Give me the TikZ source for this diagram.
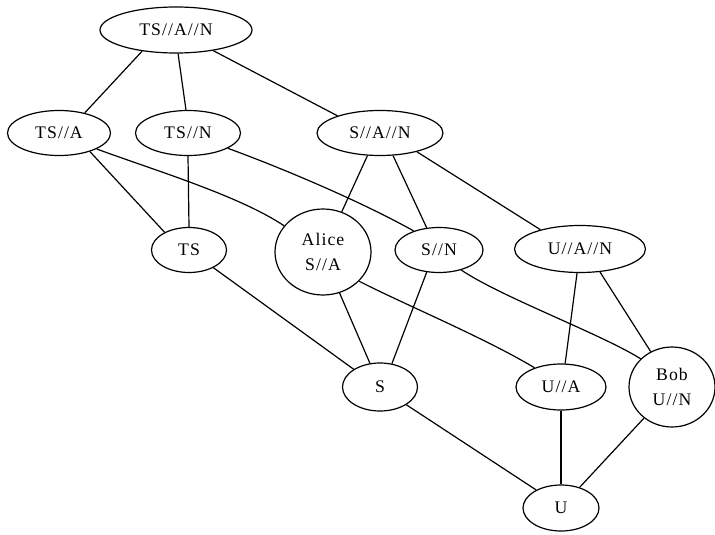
\documentclass[tikz,border=0pt]{standalone}
\usepackage{fontspec}
\setmainfont{Liberation Serif}[LetterSpace=6]
\usetikzlibrary{shapes.geometric}
\begin{document}
\begin{tikzpicture}[x=1pt,y=-1pt,
  lbl/.style={ellipse, draw, line width=1.2pt, inner sep=0pt, font=\fontsize{17.7}{25}\selectfont},
  one/.style={lbl, text height=11.7pt, text depth=0pt},
  two/.style={lbl, align=center},
  edge/.style={line width=1.2pt}]
\useasboundingbox (0,0) rectangle (715,535);
% nodes
\node[one, minimum width=152pt, minimum height=46pt] (tsan) at (176,30) {TS//A//N};
\node[one, minimum width=103pt, minimum height=45pt] (tsa) at (59,133) {TS//A};
\node[one, minimum width=105pt, minimum height=45pt] (tsn) at (188,133) {TS//N};
\node[one, minimum width=126pt, minimum height=45pt] (san) at (380,133) {S//A//N};
\node[one, minimum width=75pt, minimum height=45pt] (ts) at (189,250) {TS};
\node[two, minimum width=96pt, minimum height=86pt] (alice) at (323,252) {Alice\\S//A};
\node[one, minimum width=88pt, minimum height=45pt] (sn) at (439,250) {S//N};
\node[one, minimum width=131pt, minimum height=47pt] (uan) at (580,249) {U//A//N};
\node[one, minimum width=75pt, minimum height=48pt] (s) at (380,387) {S};
\node[one, minimum width=90pt, minimum height=46pt] (ua) at (561,387) {U//A};
\node[two, minimum width=86pt, minimum height=80pt] (bob) at (672,387) {Bob\\U//N};
\node[one, minimum width=76pt, minimum height=46pt] (u) at (561,508) {U};
% edges
\draw[edge] (tsan.212) -- (tsa.38);
\draw[edge] (tsan.275) -- (tsn.95);
\draw[edge] (tsan.331) -- (san.158);
\draw[edge] (tsa.329) -- (ts.144);
\draw[edge] (tsa.337) .. controls +(60,22) and +(-45,-30) .. (alice.146);
\draw[edge] (tsn.270) -- (ts.90);
\draw[edge] (tsn.339) .. controls +(60,22) and +(-50,-28) .. (sn.143);
\draw[edge] (san.241) -- (alice.65);
\draw[edge] (san.300) -- (sn.119);
\draw[edge] (san.333) -- (uan.154);
\draw[edge] (ts.324) -- (s.146);
\draw[edge] (alice.292) -- (s.113);
\draw[edge] (alice.321) .. controls +(45,23) and +(-50,-30) .. (ua.144);
\draw[edge] (sn.241) -- (s.63);
\draw[edge] (sn.318) .. controls +(40,27) and +(-40,-25) .. (bob.138);
\draw[edge] (uan.263) -- (ua.80);
\draw[edge] (uan.311) -- (bob.121);
\draw[edge] (s.326) -- (u.144);
\draw[edge] (ua.270) -- (u.90);
\draw[edge] (bob.228) -- (u.48);
\end{tikzpicture}
\end{document}
